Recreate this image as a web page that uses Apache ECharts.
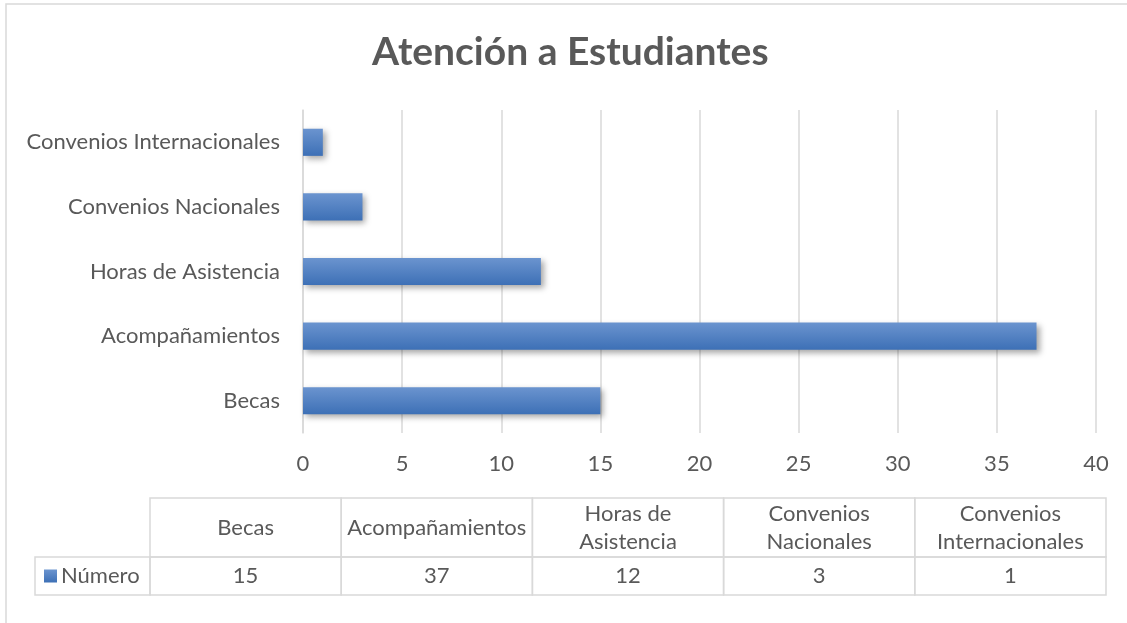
<!DOCTYPE html>
<html>
<head>
<meta charset="utf-8">
<script src="https://cdn.jsdelivr.net/npm/echarts@6/dist/echarts.min.js"></script>
<style>html,body{margin:0;padding:0;background:#fff}#c{width:1127px;height:623px}</style>
</head>
<body>
<div id="c"></div>
<script>
const chartTitle = 'Atención a Estudiantes';
const categories = ['Becas', 'Acompañamientos', 'Horas de Asistencia', 'Convenios Nacionales', 'Convenios Internacionales'];
const tableHeaders = ['Becas', 'Acompañamientos', 'Horas de\nAsistencia', 'Convenios\nNacionales', 'Convenios\nInternacionales'];
const values = [15, 37, 12, 3, 1];
const seriesName = 'Número';
const axisMin = 0, axisMax = 40, axisInterval = 5;

const FONT = 'Lato';
const TXT = '#595959';
const LINE = '#d9d9d9';
const FS = 22;

// data table layout
const tbl = { legendX: 35, x0: 150, colW: 191.2, top: 498, headH: 59, rowH: 38 };
const barGrad = () => new echarts.graphic.LinearGradient(0, 0, 0, 1, [{ offset: 0, color: '#6b94cf' }, { offset: 1, color: '#3d70b6' }]);
const graphics = [];
graphics.push({ type: 'rect', shape: { x: 6, y: 4, width: 1135, height: 640 }, style: { fill: 'none', stroke: LINE, lineWidth: 1.5 }, silent: true });
tableHeaders.forEach((h, i) => {
  const x = tbl.x0 + i * tbl.colW;
  graphics.push({ type: 'rect', shape: { x: x, y: tbl.top, width: tbl.colW, height: tbl.headH }, style: { fill: 'none', stroke: LINE, lineWidth: 1.5 }, silent: true });
  graphics.push({ type: 'rect', shape: { x: x, y: tbl.top + tbl.headH, width: tbl.colW, height: tbl.rowH }, style: { fill: 'none', stroke: LINE, lineWidth: 1.5 }, silent: true });
  graphics.push({ type: 'text', x: x + tbl.colW / 2, y: tbl.top + tbl.headH / 2, style: { text: h, fill: TXT, font: FS + 'px ' + FONT, align: 'center', verticalAlign: 'middle', lineHeight: 28 }, silent: true });
  graphics.push({ type: 'text', x: x + tbl.colW / 2, y: tbl.top + tbl.headH + tbl.rowH / 2, style: { text: String(values[i]), fill: TXT, font: FS + 'px ' + FONT, align: 'center', verticalAlign: 'middle' }, silent: true });
});
graphics.push({ type: 'rect', shape: { x: tbl.legendX, y: tbl.top + tbl.headH, width: tbl.x0 - tbl.legendX, height: tbl.rowH }, style: { fill: 'none', stroke: LINE, lineWidth: 1.5 }, silent: true });
graphics.push({ type: 'rect', shape: { x: 44, y: tbl.top + tbl.headH + tbl.rowH / 2 - 6.5, width: 13, height: 13 }, style: { fill: barGrad() }, silent: true });
graphics.push({ type: 'text', x: 61, y: tbl.top + tbl.headH + tbl.rowH / 2, style: { text: seriesName, fill: TXT, font: FS + 'px ' + FONT, align: 'left', verticalAlign: 'middle' }, silent: true });

const chart = echarts.init(document.getElementById('c'));
chart.setOption({
  animation: false,
  backgroundColor: '#fff',
  title: { text: chartTitle, left: 367, top: 28, textStyle: { fontFamily: FONT, fontSize: 39, fontWeight: 'bold', color: TXT } },
  grid: { left: 303, right: 31, top: 110, bottom: 190 },
  xAxis: {
    type: 'value', min: axisMin, max: axisMax, interval: axisInterval,
    axisLine: { show: false }, axisTick: { show: false },
    axisLabel: { color: TXT, fontFamily: FONT, fontSize: FS, margin: 20 },
    splitLine: { lineStyle: { color: LINE, width: 1.5 } }
  },
  yAxis: {
    type: 'category', data: categories,
    axisLine: { lineStyle: { color: LINE, width: 1.5 } }, axisTick: { show: false },
    axisLabel: { color: TXT, fontFamily: FONT, fontSize: FS, margin: 23 }
  },
  series: [{
    name: seriesName, type: 'bar', data: values, barCategoryGap: '58%',
    itemStyle: {
      color: barGrad(),
      shadowColor: 'rgba(0,0,0,0.35)', shadowBlur: 6, shadowOffsetX: 3, shadowOffsetY: 3
    }
  }],
  graphic: graphics
});
</script>
</body>
</html>
